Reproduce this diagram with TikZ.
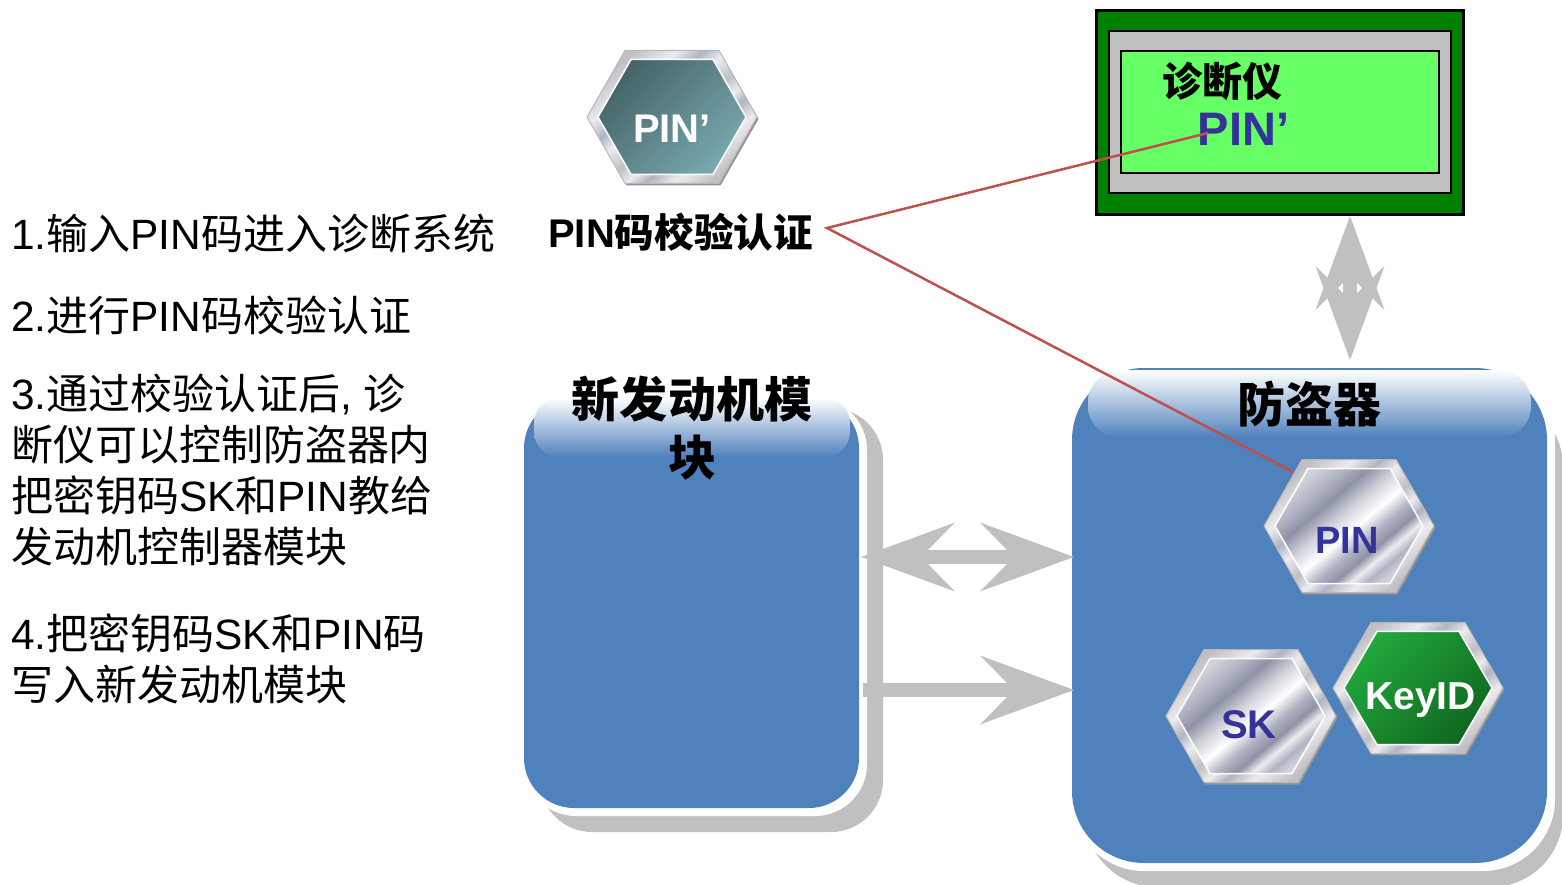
\documentclass[tikz,border=0pt]{standalone}
\usepackage{fontspec}
\setmainfont{Liberation Sans}
\newfontfamily\cjk[Scale=0.99]{Noto Sans CJK SC}
\usetikzlibrary{arrows.meta}
\newcommand{\zh}[1]{{\cjk #1}}
\newcommand{\hexpath}[3]{(-#1,0) -- (-#2,-#3) -- (#2,-#3) -- (#1,0) -- (#2,#3) -- (-#2,#3) -- cycle}
\definecolor{boxblue}{HTML}{4F81BD}
\definecolor{linkred}{HTML}{C0504D}
\definecolor{arrowgray}{HTML}{C0C0C0}
\definecolor{labelblue}{HTML}{333399}
\definecolor{screengreen}{HTML}{66FF66}
\definecolor{silverlight}{HTML}{D0D2DA}
\definecolor{silvermid}{HTML}{B0B3C2}
\definecolor{silverdark}{HTML}{8E92A6}
\definecolor{silverpale}{HTML}{ECECF0}
\definecolor{ringgray}{HTML}{C0C0C4}
\definecolor{tealdark}{HTML}{456468}
\definecolor{teallight}{HTML}{78A8B0}
\definecolor{greenlight}{HTML}{22A83C}
\definecolor{greendark}{HTML}{106820}
\pgfdeclarehorizontalshading{hexmetal}{100bp}{
  color(0bp)=(silverlight); color(25bp)=(silverlight); color(32bp)=(silvermid); color(38bp)=(silverdark);
  color(45bp)=(silverlight); color(52bp)=(white); color(58bp)=(silvermid); color(63bp)=(silverdark);
  color(67bp)=(silverpale); color(71bp)=(silvermid); color(75bp)=(silverlight); color(100bp)=(silverlight)}
\pgfdeclarehorizontalshading{hexring}{100bp}{
  color(0bp)=(ringgray); color(25bp)=(ringgray); color(34bp)=(silverpale); color(40bp)=(silvermid);
  color(45bp)=(silverpale); color(52bp)=(ringgray); color(57bp)=(silverpale); color(61bp)=(silvermid);
  color(67bp)=(silverpale); color(75bp)=(ringgray); color(100bp)=(ringgray)}
\tikzset{
  bigtip/.tip={Stealth[length=94pt,width=69pt,inset=34pt,line width=0pt]},
  bigarrow/.style={draw=arrowgray,line width=14.5pt},
  panel/.style={fill=boxblue,rounded corners=#1},
  gloss/.style={top color=white,bottom color=boxblue,rounded corners=#1},
  steptext/.style={anchor=north west,inner sep=0pt,align=left,font=\fontsize{42.4}{51}\selectfont},
  boldtext/.style={inner sep=0pt,font=\fontsize{#1}{58}\selectfont\bfseries},
  metalface/.style={shading=hexmetal,shading angle=-50,draw=white,line width=1.5pt},
  tealface/.style={left color=tealdark,right color=teallight,shading angle=45,draw=white,line width=1.5pt},
  greenface/.style={left color=greenlight,right color=greendark,shading angle=45,draw=white,line width=1.5pt},
  hexbadge/.pic={
    \fill[black!42] [shift={(1.5,2)}] \hexpath{85}{47}{66.5};
    \path[shading=hexring,shading angle=-50,draw=black!28,line width=1pt] \hexpath{85}{47}{66.5};
    \path[pic actions] \hexpath{74}{41}{57.5};
  }
}
\begin{document}
\begin{tikzpicture}[x=1pt,y=-1pt]
  \useasboundingbox (0,0) rectangle (1562,885);
  % left column
  \node[steptext] (stepone) at (11,214) {1.\zh{输入}PIN\zh{码进入诊断系统}};
  \node[steptext] (steptwo) at (11,296) {2.\zh{进行}PIN\zh{码校验认证}};
  \node[steptext] (stepthree) at (11,374) {3.\zh{通过校验认证后}, \zh{诊}\\\zh{断仪可以控制防盗器内}\\\zh{把密钥码}SK\zh{和}PIN\zh{教给}\\\zh{发动机控制器模块}};
  \node[steptext] (stepfour) at (11,614) {4.\zh{把密钥码}SK\zh{和}PIN\zh{码}\\\zh{写入新发动机模块}};
  % tester
  \node[draw=black,line width=2.5pt,fill=green!50!black,minimum width=367pt,minimum height=204pt] (testerouter) at (1280,112.5) {};
  \node[draw=black,line width=2pt,fill=arrowgray,minimum width=342pt,minimum height=162pt] (testermid) at (1279.5,112) {};
  \node[draw=black,line width=2pt,fill=screengreen,minimum width=318pt,minimum height=122pt] (testerscreen) at (1279.5,112) {};
  \node[boldtext=40.4] (testerlabel) at (1222,81) {\zh{诊断仪}};
  \node[boldtext=47,text=labelblue] (pindiag) at (1243.5,129) {PIN’};
  % panels with their shadows
  \fill[arrowgray,rounded corners=52pt] (540,408) rectangle (883,832);
  \fill[white,rounded corners=52pt] (524,398) rectangle (867,816);
  \node[panel=50pt,minimum width=335pt,minimum height=410pt,inner sep=0pt] (engine) at (691.5,603) {};
  \shade[gloss=25pt] (534,398) rectangle (850,457);
  \fill[arrowgray,rounded corners=72pt] (1085,395) rectangle (1563,887);
  \fill[white,rounded corners=72pt] (1072,368) rectangle (1555,871);
  \node[panel=72pt,minimum width=475pt,minimum height=495pt,inner sep=0pt] (immo) at (1309.5,615.5) {};
  \shade[gloss=32pt] (1088,370) rectangle (1531,438);
  \node[boldtext=48.5,align=center] (enginetitle) at (692,428) {\zh{新发动机模}\\\zh{块}};
  \node[boldtext=48.5] (immotitle) at (1309.5,404) {\zh{防盗器}};
  % check label and links
  \node[boldtext=40,anchor=west] (check) at (548,232) {PIN\zh{码校验认证}};
  \coordinate (fork) at (827,228);
  \coordinate (pintip) at (1208,133);
  \coordinate (pinedge) at (1293,472);
  \draw[linkred,line width=2.5pt] (pintip) -- (fork) -- (pinedge);
  % gray arrows
  \coordinate (doubleleft) at (861,557);
  \coordinate (doubleright) at (1074,557);
  \coordinate (singleleft) at (863,690);
  \coordinate (singleright) at (1074,690);
  \coordinate (tallup) at (1350,216);
  \coordinate (talldown) at (1350,360);
  \draw[bigarrow,{bigtip}-{bigtip}] (doubleleft) -- (doubleright);
  \draw[bigarrow,-{bigtip}] (singleleft) -- (singleright);
  \draw[bigarrow,{bigtip}-{bigtip}] (tallup) -- (talldown);
  % badges
  \pic[tealface] at (672,117) {hexbadge};
  \pic[metalface] at (1349,526) {hexbadge};
  \pic[metalface] at (1251,716) {hexbadge};
  \pic[greenface,yscale=.985] at (1418,688) {hexbadge};
  \node[boldtext=40,text=white] (pinprime) at (672,129) {PIN’};
  \node[boldtext=38,text=labelblue] (pinlabel) at (1347,540) {PIN};
  \node[boldtext=40,text=labelblue] (sklabel) at (1249,725) {SK};
  \node[boldtext=39,text=white] (keyid) at (1420.5,700) {KeyID};
\end{tikzpicture}
\end{document}
